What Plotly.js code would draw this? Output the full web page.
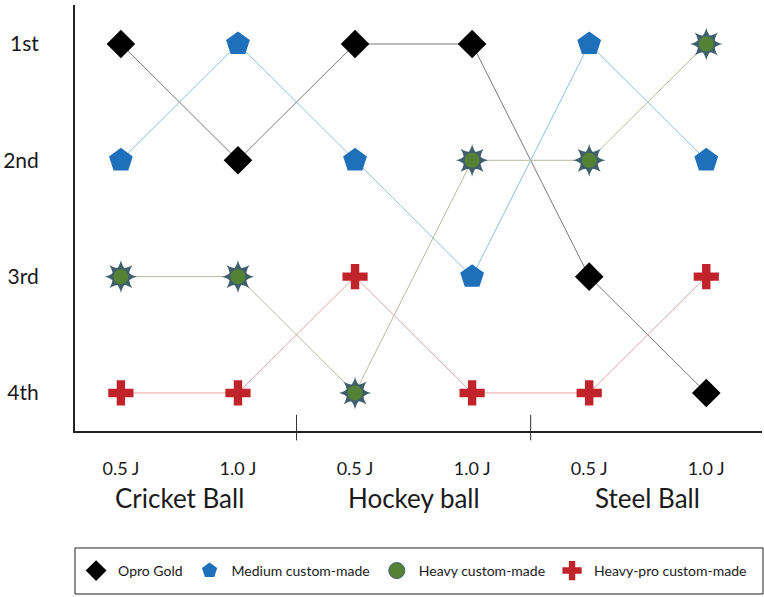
<!DOCTYPE html>
<html>
<head>
<meta charset="utf-8">
<script src="https://cdn.plot.ly/plotly-3.0.1.min.js"></script>
<style>html,body{margin:0;padding:0;background:#fff;}#chart{width:764px;height:597px;}</style>
</head>
<body>
<div id="chart"></div>
<script>
// ---- data ----
var conditions = ["0.5 J", "1.0 J", "0.5 J", "1.0 J", "0.5 J", "1.0 J"];
var groups = ["Cricket Ball", "Hockey ball", "Steel Ball"];
var rankLabels = ["1st", "2nd", "3rd", "4th"];
var seriesNames = ["Opro Gold", "Medium custom-made", "Heavy custom-made", "Heavy-pro custom-made"];
var oproGold = [1, 2, 1, 1, 3, 4];
var mediumCustom = [2, 1, 2, 3, 1, 2];
var heavyCustom = [3, 3, 4, 2, 2, 1];
var heavyProCustom = [4, 4, 3, 4, 4, 3];

var xIdx = conditions.map(function (_, i) { return i; });
var FONT = "Lato, 'Open Sans', sans-serif";
var TXT = "#1a1a1a";

function lineTrace(vals, color) {
  return {x: xIdx, y: vals, mode: "lines", type: "scatter", showlegend: false,
          hoverinfo: "skip", line: {color: color, width: 1}};
}

var traces = [
  lineTrace(oproGold, "#7a7a7a"),
  lineTrace(mediumCustom, "#8dbfe0"),
  lineTrace(heavyCustom, "#b7bb9c"),
  lineTrace(heavyProCustom, "#e6a3a3"),
  {x: xIdx, y: oproGold, mode: "markers", type: "scatter", name: seriesNames[0],
   marker: {symbol: "diamond", size: 22, color: "#000000"}},
  {x: xIdx, y: mediumCustom, mode: "markers", type: "scatter", name: seriesNames[1],
   marker: {symbol: "pentagon", size: 25, color: "#1f70ba"}},
  {x: xIdx, y: heavyCustom, mode: "markers", type: "scatter", showlegend: false, hoverinfo: "skip",
   marker: {symbol: "star-square", size: 21, color: "#3f5f6d", angle: 0}},
  {x: xIdx, y: heavyCustom, mode: "markers", type: "scatter", showlegend: false, hoverinfo: "skip",
   marker: {symbol: "star-square", size: 21, color: "#3f5f6d", angle: 45}},
  {x: xIdx, y: heavyCustom, mode: "markers", type: "scatter", name: seriesNames[2],
   marker: {symbol: "circle", size: 16, color: "#548235", line: {color: "#3f5f6d", width: 1}}},
  {x: xIdx, y: heavyProCustom, mode: "markers", type: "scatter", name: seriesNames[3],
   marker: {symbol: "cross", size: 21, color: "#c1232b"}}
];

var annotations = groups.map(function (g, i) {
  return {x: 2 * i + 0.5, xref: "x", y: -0.158, yref: "paper", text: g, showarrow: false,
          xanchor: "center", yanchor: "middle", font: {family: FONT, size: 26, color: TXT}};
});

var shapes = [1.5, 3.5].map(function (s) {
  return {type: "line", xref: "x", yref: "paper", x0: s, x1: s, y0: 0.038, y1: -0.022,
          line: {color: "#333", width: 1}};
});
shapes.push({type: "rect", xref: "paper", yref: "paper", x0: 0, x1: 1.0015, y0: -0.2746, y1: -0.3826,
             line: {color: "#222", width: 1}, fillcolor: "rgba(0,0,0,0)"});

var layout = {
  width: 764, height: 597,
  margin: {l: 75, r: 2, t: 5, b: 166, autoexpand: false},
  paper_bgcolor: "#ffffff", plot_bgcolor: "#ffffff",
  font: {family: FONT, color: TXT},
  showlegend: true,
  legend: {orientation: "h", xref: "container", yref: "container", x: 0.097, xanchor: "left",
           y: 0.0436, yanchor: "middle", borderwidth: 0, bgcolor: "rgba(0,0,0,0)",
           font: {family: FONT, size: 14, color: TXT}, itemwidth: 34, tracegroupgap: 0},
  xaxis: {range: [-0.392, 5.476], tickvals: xIdx, ticktext: conditions, showgrid: false,
          zeroline: false, showline: true, linecolor: "#222", linewidth: 2, ticks: "",
          ticklabelstandoff: 20, tickfont: {family: FONT, size: 18, color: TXT}},
  yaxis: {range: [4.327, 0.665], tickvals: [1, 2, 3, 4], ticktext: rankLabels, showgrid: false,
          zeroline: false, showline: true, linecolor: "#222", linewidth: 2, ticks: "",
          ticklabelstandoff: 30, tickfont: {family: FONT, size: 21, color: TXT}},
  annotations: annotations,
  shapes: shapes
};

Plotly.newPlot("chart", traces, layout, {displayModeBar: false, staticPlot: true});
</script>
</body>
</html>
